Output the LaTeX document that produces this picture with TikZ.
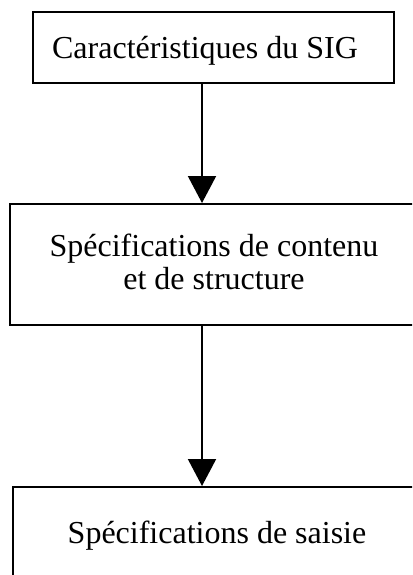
\documentclass[tikz,border=0pt]{standalone}
\usepackage{fontspec}
\setmainfont{Liberation Serif}
\usetikzlibrary{arrows.meta}
\tikzset{
  box/.style={draw=black, line width=2pt, rectangle, inner sep=0pt},
  lbl/.style={font=\fontsize{32}{33}\selectfont, inner sep=0pt, align=center, anchor=base},
  conn/.style={draw=black, line width=2pt, -{Triangle[width=28pt,length=27pt]}}
}
\begin{document}
\begin{tikzpicture}[x=1pt,y=-1pt]
  \useasboundingbox (0,0) rectangle (412,575);
  \clip (0,0) rectangle (412,575);
  \fill[white] (0,0) rectangle (412,575);
  \node[box, minimum width=361pt, minimum height=71pt] (b1) at (213.5,47.5) {};
  \node[box, minimum width=410pt, minimum height=121pt] (b2) at (215,264.5) {};
  \node[box, minimum width=407pt, minimum height=113pt] (b3) at (216.5,543.5) {};
  \node[lbl] (t1) at (205,59) {Caractéristiques du SIG};
  \node[lbl] (t2) at (214,289) {Spécifications de contenu\\et de structure};
  \node[lbl] (t3) at (217,543) {Spécifications de saisie};
  \coordinate (ax) at (202,0);
  \draw[conn] (b1.south -| ax) -- (b2.north -| ax);
  \draw[conn] (b2.south -| ax) -- (b3.north -| ax);
\end{tikzpicture}
\end{document}
